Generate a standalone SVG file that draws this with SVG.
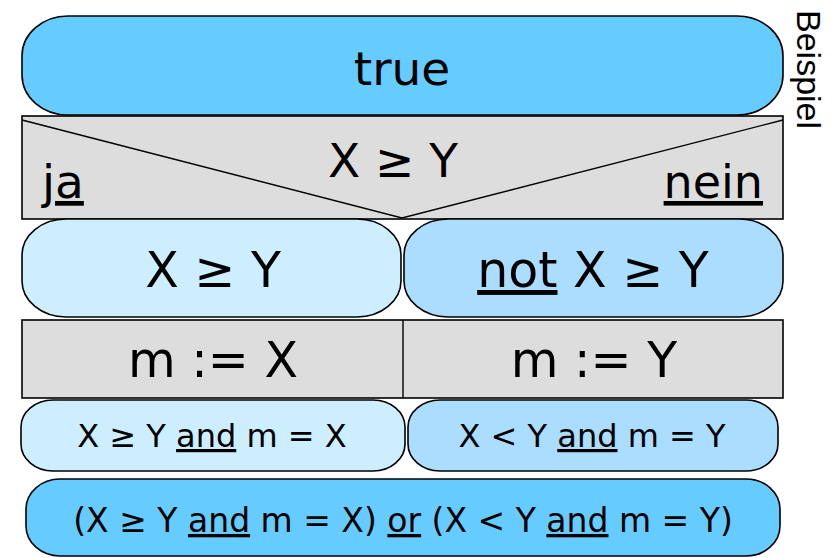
<svg xmlns="http://www.w3.org/2000/svg" width="836" height="558" viewBox="0 0 836 558">
<style>
.box{stroke:#000;stroke-width:1.6}
.c1{fill:#66ccff}
.c2{fill:#cceeff}
.c3{fill:#aaddff}
.g{fill:#dddddd}
text{font-family:"DejaVu Sans",Verdana,sans-serif;fill:#000}
.big{font-size:47px;text-anchor:middle}
.big2{font-size:49px;text-anchor:middle}
.mid{font-size:32px;text-anchor:middle}
.u{text-decoration:underline}
.side{font-family:"Liberation Sans",Arial,sans-serif;font-size:34px}
.ln{stroke:#000;stroke-width:1.4;fill:none}
</style>
<rect width="836" height="558" fill="#fff"/>
<g id="start">
<rect class="box c1" x="22" y="16" width="761" height="99" rx="46" ry="40"/>
<text class="big" x="402" y="85">true</text>
</g>
<g id="decision">
<rect class="box g" x="22" y="116" width="761" height="103"/>
<text class="big" x="393" y="177">X ≥ Y</text>
<text x="42" y="198" style="font-size:47px" class="u">ja</text>
<text x="763" y="198" style="font-size:46px;text-anchor:end" class="u">nein</text>
</g>
<g id="cond-yes">
<rect class="box c2" x="22" y="219" width="379" height="98" rx="44" ry="36"/>
<text class="big2" x="213" y="287">X ≥ Y</text>
</g>
<g id="cond-no">
<rect class="box c3" x="404" y="219" width="379" height="98" rx="44" ry="36"/>
<text class="big2" x="593" y="287"><tspan class="u">not</tspan> X ≥ Y</text>
</g>
<g id="assign">
<rect class="box g" x="22" y="320" width="761" height="78"/>
<text class="big2" x="213" y="377">m := X</text>
<text class="big2" x="594" y="377">m := Y</text>
</g>
<g id="post-yes">
<rect class="box c2" x="21" y="400" width="384" height="71" rx="32" ry="27"/>
<text class="mid" x="212" y="447">X ≥ Y <tspan class="u">and</tspan> m = X</text>
</g>
<g id="post-no">
<rect class="box c3" x="408" y="400" width="370" height="71" rx="32" ry="27"/>
<text class="mid" x="592" y="447">X &lt; Y <tspan class="u">and</tspan> m = Y</text>
</g>
<g id="result">
<rect class="box c1" x="26" y="479" width="754" height="77" rx="34" ry="30"/>
<text class="mid" x="403" y="532" style="font-size:33px">(X ≥ Y <tspan class="u">and</tspan> m = X) <tspan class="u">or</tspan> (X &lt; Y <tspan class="u">and</tspan> m = Y)</text>
</g>
<g id="connectors">
<polyline class="ln" points="22,120 402,218 783,120"/>
<line class="ln" x1="403" y1="320" x2="403" y2="398"/>
</g>
<g id="label">
<text class="side" transform="translate(797,10) rotate(90)">Beispiel</text>
</g>
</svg>
